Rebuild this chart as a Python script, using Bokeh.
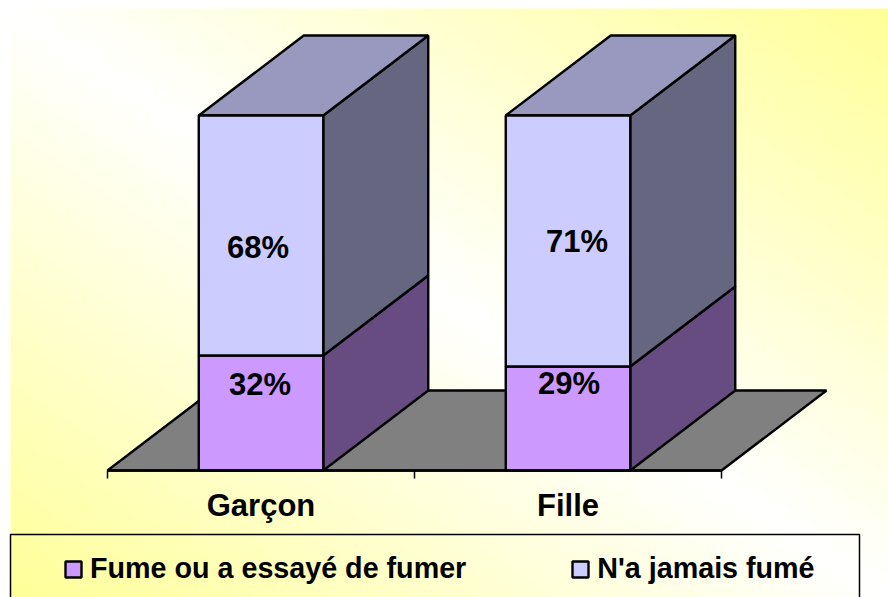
import numpy as np
from bokeh.embed import file_html
from bokeh.resources import INLINE
from bokeh.plotting import figure
from bokeh.models import Range1d, LinearAxis, FixedTicker, Legend, LegendItem, BoxAnnotation
from bokeh.core.properties import value

categories = ["Garçon", "Fille"]
fume = [32.4, 29.3]
jamais = [67.6, 70.7]
legend_labels = ["Fume ou a essayé de fumer", "N'a jamais fumé"]

W, H = 888, 597
PX_X, PX_Y = 307.0, 3.55          # pixels per category / per percent
X0, Y0 = 107.0, 470.0             # frame position of the origin
x_start, x_end = -X0 / PX_X, (W - X0) / PX_X
y_end, y_start = Y0 / PX_Y, -(H - Y0) / PX_Y
DX, DY = 105.0 / PX_X, 80.0 / PX_Y  # 3D depth in data units
BW = 124.5 / PX_X
LW = 2.4


def fx(px):
    return (px - X0) / PX_X


def fy(py):
    return (Y0 - py) / PX_Y


p = figure(width=W, height=H, output_backend="svg", toolbar_location=None,
           x_range=Range1d(x_start, x_end), y_range=Range1d(y_start, y_end),
           x_axis_type=None, y_axis_type=None, min_border=0,
           background_fill_color="white", border_fill_color="white", outline_line_color=None)
p.grid.visible = False

# background gradient: yellow in the bottom-left and top-right corners, white along the other diagonal
nx, ny = 439, 295
u = np.linspace(0, 1, nx)[None, :]
v = np.linspace(0, 1, ny)[:, None]      # row 0 is the bottom of the picture
s = (u + v) / 2
t = np.clip(np.abs(s - 0.5) * 2, 0, 1)
img = np.zeros((ny, nx, 4), dtype=np.uint8)
img[..., 0] = 255
img[..., 1] = 255
img[..., 2] = (255 - 102 * t).astype(np.uint8)
img[..., 3] = 255
rgba = img.view(dtype=np.uint32).reshape(ny, nx)
p.image_rgba(image=[rgba], x=[fx(10)], y=[y_start], dw=[x_end - fx(10)], dh=[fy(8) - y_start])

# floor
p.patch([0, 2, 2 + DX, DX], [0, 0, DY, DY], fill_color="#808080", line_color="black", line_width=LW)

FRONT_COLORS = ["#CC99FF", "#CCCCFF"]
SIDE_COLORS = ["#664C80", "#666680"]
TOP_COLOR = "#9999BF"

legend_renderers = []
for i, cat in enumerate(categories):
    xc = i + 0.5
    l, r = xc - BW / 2, xc + BW / 2
    a, b = fume[i], jamais[i]
    # side faces
    for lo, hi, c in [(0, a, SIDE_COLORS[0]), (a, a + b, SIDE_COLORS[1])]:
        p.patch([r, r + DX, r + DX, r], [lo, lo + DY, hi + DY, hi], fill_color=c, line_color="black", line_width=LW)
    # top face
    p.patch([l, r, r + DX, l + DX], [a + b, a + b, a + b + DY, a + b + DY],
            fill_color=TOP_COLOR, line_color="black", line_width=LW)
    # front faces
    r1 = p.quad(left=[l], right=[r], bottom=[0], top=[a], fill_color=FRONT_COLORS[0], line_color="black", line_width=LW)
    r2 = p.quad(left=[l], right=[r], bottom=[a], top=[a + b], fill_color=FRONT_COLORS[1], line_color="black", line_width=LW)
    if i == 0:
        legend_renderers = [r1, r2]

# value labels (hand-placed in the original, hence the pixel offsets)
font = value("Liberation Sans")
lab_x = [0.5, 0.5, 1.5, 1.5]
lab_y = [fume[0] / 2, fume[0] + jamais[0] / 2, fume[1] / 2, fume[1] + jamais[1] / 2]
lab_t = [f"{round(fume[0])}%", f"{round(jamais[0])}%", f"{round(fume[1])}%", f"{round(jamais[1])}%"]
p.text(x=lab_x, y=lab_y, text=lab_t, x_offset=[-1, -3, 1, 9], y_offset=[-28, 12, -35, 1],
       text_align="center", text_baseline="middle", text_font=font, text_font_size="31px",
       text_font_style="bold", text_color="black")

# axis: ticks at category boundaries
tick_axis = LinearAxis(ticker=FixedTicker(ticks=[0, 1, 2]), fixed_location=0, bounds=(0, 2),
                       major_tick_out=8, major_tick_in=0, minor_tick_line_color=None,
                       major_label_text_font_size="0px", axis_line_color="black", axis_line_width=LW,
                       major_tick_line_color="black", major_tick_line_width=1.5)
tick_axis.major_label_overrides = {0: "", 1: "", 2: ""}
p.add_layout(tick_axis, "below")

label_axis = LinearAxis(ticker=FixedTicker(ticks=[0.5, 1.5]), fixed_location=0,
                        major_tick_out=0, major_tick_in=0, minor_tick_line_color=None,
                        axis_line_color=None, major_label_standoff=17,
                        major_label_text_font="Liberation Sans", major_label_text_font_style="bold",
                        major_label_text_font_size="31px", major_label_text_color="black")
label_axis.major_label_overrides = {0.5: categories[0], 1.5: categories[1]}
p.add_layout(label_axis, "below")

# legend frame
p.add_layout(BoxAnnotation(left=fx(10), right=fx(859), top=fy(534), bottom=fy(640),
                           fill_alpha=0, line_color="black", line_alpha=1, line_width=1.5))

legend = Legend(items=[LegendItem(label=legend_labels[0], renderers=[legend_renderers[0]]),
                       LegendItem(label=legend_labels[1], renderers=[legend_renderers[1]])],
                orientation="horizontal", location=(63, 12), background_fill_alpha=0, border_line_alpha=0,
                padding=0, margin=0, spacing=104, glyph_width=20, glyph_height=20, label_standoff=7,
                label_text_font="Liberation Sans", label_text_font_style="bold", label_text_font_size="28.7px",
                label_text_color="black", click_policy="none")
p.add_layout(legend, "center")

open("out.html", "w").write(file_html(p, INLINE))
